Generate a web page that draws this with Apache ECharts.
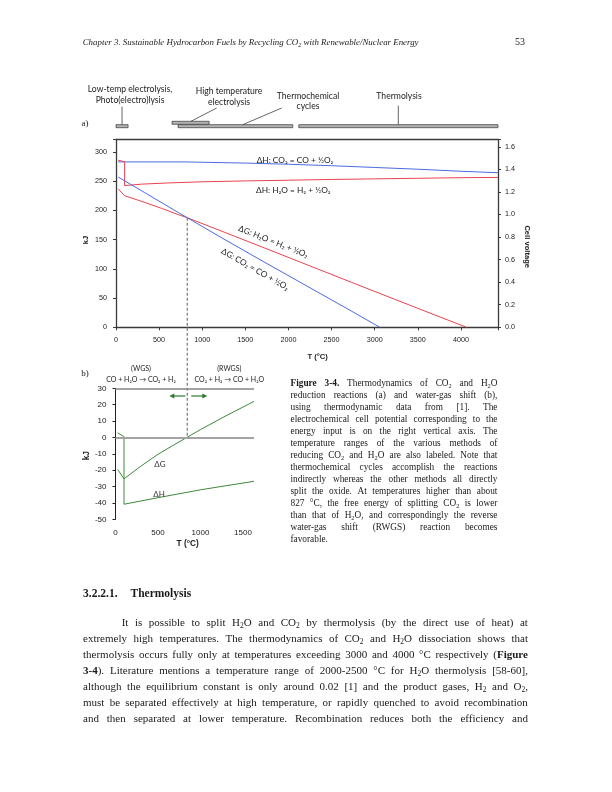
<!DOCTYPE html>
<html><head><meta charset="utf-8">
<script src="https://cdn.jsdelivr.net/npm/echarts@6/dist/echarts.min.js"></script>
<style>
html,body{margin:0;padding:0;background:#fff;}
#page{position:relative;width:612px;height:792px;overflow:hidden;background:#fff;}
#chart{position:absolute;left:0;top:0;width:612px;height:792px;}
.t{position:absolute;font-family:"Liberation Serif","Times New Roman",serif;color:#1a1a1a;white-space:nowrap;}
.jl{display:flex;justify-content:space-between;}
sub{font-size:0.68em;vertical-align:-0.28em;line-height:0;}
</style></head>
<body><div id="page"><div id="chart"></div>
<div class="t" id="hdr" style="left:82.7px;top:36px;font-size:8.9px;line-height:12px;font-style:italic;">Chapter 3. Sustainable Hydrocarbon Fuels by Recycling CO<sub>2</sub> with Renewable/Nuclear Energy</div>
<div class="t" style="left:505px;width:20px;text-align:right;top:35.5px;font-size:10px;line-height:12px;">53</div>
<div class="t" id="cap" style="left:290.5px;top:377px;width:207px;font-size:9.3px;line-height:12px;"></div>
<div class="t" style="left:83px;top:584.5px;font-size:11.5px;line-height:16px;font-weight:bold;">3.2.2.1.<span style="display:inline-block;width:13px"></span>Thermolysis</div>
<div class="t" id="body" style="left:83px;top:613.5px;width:445px;font-size:11px;line-height:16.1px;"></div>
</div>
<script>
// ---------- data ----------
// (a) top chart: T (°C) vs kJ
const dH_CO2 = [[25,283.0],[800,283.0],[1500,281.0],[2000,279.0],[2500,276.5],[3000,273.5],[3500,270.5],[4000,267.0],[4430,264.5]];
const dH_H2O = [[25,285.8],[100,283.5],[100,242.5],[300,245.0],[600,247.0],[1000,249.0],[1500,250.5],[2000,251.7],[2500,253.0],[3000,254.0],[3500,255.0],[4000,256.0],[4430,256.5]];
const dG_H2O = [[25,237.1],[100,225.2],[327,214.0],[527,203.6],[727,192.6],[827,187.5],[1227,164.4],[1727,135.5],[2227,106.3],[2727,77.2],[3227,48.2],[3727,19.4],[4065,0]];
const dG_CO2 = [[25,257.2],[327,231.0],[727,196.0],[827,187.5],[1227,153.0],[1727,111.0],[2227,69.5],[2727,28.0],[3060,0]];
const crossT = 827, crossKJ = 187.5;
// method temperature ranges (°C)
const methodRanges = [
  {from:0, to:140},
  {from:650, to:1080},
  {from:720, to:2050},
  {from:2120, to:4430}
];
// (b) bottom chart: water-gas shift
const dH_WGS = [[25,2.8],[100,0.5],[100,-40.8],[500,-36.8],[1000,-32.0],[1300,-29.5],[1630,-26.8]];
const dG_WGS = [[25,-19.5],[100,-25.3],[300,-17.5],[500,-10.3],[700,-4.2],[840,0],[1000,4.8],[1300,13.2],[1630,22.0]];
const refLinesB = [0, 30];

const captionLines = [
 '<b>Figure</b> <b>3-4.</b> Thermodynamics of CO<sub>2</sub> and H<sub>2</sub>O',
 'reduction reactions (a) and water-gas shift (b),',
 'using thermodynamic data from [1]. The',
 'electrochemical cell potential corresponding to the',
 'energy input is on the right vertical axis. The',
 'temperature ranges of the various methods of',
 'reducing CO<sub>2</sub> and H<sub>2</sub>O are also labeled. Note that',
 'thermochemical cycles accomplish the reactions',
 'indirectly whereas the other methods all directly',
 'split the oxide. At temperatures higher than about',
 '827 °C, the free energy of splitting CO<sub>2</sub> is lower',
 'than that of H<sub>2</sub>O, and correspondingly the reverse',
 'water-gas shift (RWGS) reaction becomes',
 'favorable.'
];
const bodyLines = [
 'It is possible to split H<sub>2</sub>O and CO<sub>2</sub> by thermolysis (by the direct use of heat) at',
 'extremely high temperatures. The thermodynamics of CO<sub>2</sub> and H<sub>2</sub>O dissociation shows that',
 'thermolysis occurs fully only at temperatures exceeding 3000 and 4000 °C respectively (<b>Figure</b>',
 '<b>3-4</b>). Literature mentions a temperature range of 2000-2500 °C for H<sub>2</sub>O thermolysis [58-60],',
 'although the equilibrium constant is only around 0.02 [1] and the product gases, H<sub>2</sub> and O<sub>2</sub>,',
 'must be separated effectively at high temperature, or rapidly quenched to avoid recombination',
 'and then separated at lower temperature. Recombination reduces both the efficiency and'
];

function fillLines(el, lines, lastPlain, indentFirst){
  lines.forEach((ln,i)=>{
    const d=document.createElement('div');
    const plain = lastPlain && i===lines.length-1;
    if(plain){ d.innerHTML = ln; }
    else { d.className='jl'; d.innerHTML = ln.split(' ').map(w=>'<span>'+w+'</span>').join(''); }
    if(indentFirst && i===0) d.style.paddingLeft='38.7px';
    el.appendChild(d);
  });
}
fillLines(document.getElementById('cap'), captionLines, true, false);
fillLines(document.getElementById('body'), bodyLines, false, true);

// ---------- chart ----------
const chart = echarts.init(document.getElementById('chart'), null, {renderer:'canvas', width:612, height:792});
const axC = '#3a3a3a';
const tickFont = {fontFamily:'Liberation Sans', color:'#222'};
const blue = '#4a6be0', red = '#e8424f', green = '#3d8a3a';
const mult = (v, step) => Math.abs(v/step - Math.round(v/step)) < 1e-6;

const option = {
  animation:false,
  grid:[{left:116, top:139.3, width:382, height:188},
        {left:115.5, top:388.3, width:138.5, height:131}],
  xAxis:[
    {gridIndex:0, type:'value', min:0, max:4430, interval:500, position:'bottom',
     axisLine:{onZero:false, lineStyle:{color:axC, width:1.3}},
     axisTick:{show:true, length:3, lineStyle:{color:axC}}, splitLine:{show:false},
     axisLabel:Object.assign({margin:9, fontSize:7.2, formatter:v=>mult(v,500)?String(v):''}, tickFont)},
    {gridIndex:0, type:'value', min:0, max:4430, position:'top',
     axisLine:{onZero:false, lineStyle:{color:axC, width:1.3}},
     axisTick:{show:false}, axisLabel:{show:false}, splitLine:{show:false}},
    {gridIndex:1, type:'value', min:0, max:1630, interval:500, position:'bottom',
     axisLine:{show:false, onZero:false}, axisTick:{show:false}, splitLine:{show:false},
     axisLabel:Object.assign({margin:9, fontSize:8, formatter:v=>mult(v,500)?String(v):''}, tickFont)}
  ],
  yAxis:[
    {gridIndex:0, type:'value', min:0, max:321.7, interval:50, position:'left',
     axisLine:{show:true, onZero:false, lineStyle:{color:axC, width:1.3}},
     axisTick:{show:true, length:3, lineStyle:{color:axC}}, splitLine:{show:false},
     axisLabel:Object.assign({margin:9, fontSize:7.2, formatter:v=>mult(v,50)?String(v):''}, tickFont)},
    {gridIndex:0, type:'value', min:0, max:1.667, interval:0.2, position:'right',
     axisLine:{show:true, onZero:false, lineStyle:{color:axC, width:1.3}},
     axisTick:{show:true, length:3, lineStyle:{color:axC}}, splitLine:{show:false},
     axisLabel:Object.assign({margin:7, fontSize:7.2, formatter:v=>mult(v,0.2)?v.toFixed(1):''}, tickFont)},
    {gridIndex:1, type:'value', min:-50, max:30, interval:10, position:'left',
     axisLine:{show:true, onZero:false, lineStyle:{color:'#222', width:1}},
     axisTick:{show:true, length:3, lineStyle:{color:'#222'}}, splitLine:{show:false},
     axisLabel:Object.assign({margin:9, fontSize:8, formatter:v=>mult(v,10)?String(v):''}, tickFont)}
  ],
  series:[
    {type:'line', xAxisIndex:0, yAxisIndex:0, data:dH_CO2, showSymbol:false, symbol:'none', lineStyle:{color:blue, width:1}, z:3},
    {type:'line', xAxisIndex:0, yAxisIndex:0, data:dH_H2O, showSymbol:false, symbol:'none', lineStyle:{color:red, width:1}, z:3},
    {type:'line', xAxisIndex:0, yAxisIndex:0, data:dG_H2O, showSymbol:false, symbol:'none', lineStyle:{color:red, width:1}, z:3},
    {type:'line', xAxisIndex:0, yAxisIndex:0, data:dG_CO2, showSymbol:false, symbol:'none', lineStyle:{color:blue, width:1}, z:3},
    {type:'line', xAxisIndex:2, yAxisIndex:2, data:[], symbol:'none', z:1,
     markLine:{silent:true, symbol:['none','none'], label:{show:false},
       lineStyle:{color:'#a3a3a3', width:2, type:'solid'},
       data:refLinesB.map(v=>({yAxis:v}))}},
    {type:'line', xAxisIndex:2, yAxisIndex:2, data:dH_WGS, showSymbol:false, symbol:'none', lineStyle:{color:green, width:1}, z:3},
    {type:'line', xAxisIndex:2, yAxisIndex:2, data:dG_WGS, showSymbol:false, symbol:'none', lineStyle:{color:green, width:1}, z:3}
  ]
};
chart.setOption(option);

// ---------- annotations positioned through the axes ----------
const pA = p => chart.convertToPixel({xAxisIndex:0, yAxisIndex:0}, p);
const pB = p => chart.convertToPixel({xAxisIndex:2, yAxisIndex:2}, p);
const gEls = [];
const addTxt = (x,y,text,font,opt={}) => gEls.push(Object.assign({type:'text', x, y, z:10,
   style:{text, font, fill:opt.fill||'#222', textAlign:opt.align||'center', textVerticalAlign:'middle'}}, opt.rot!==undefined?{rotation:opt.rot}:{}));
const addLine = (x1,y1,x2,y2,st) => gEls.push({type:'line', z:9, shape:{x1,y1,x2,y2}, style:Object.assign({stroke:'#404040', lineWidth:0.8}, st||{})});

// dashed guide at the crossing temperature
const crossPx = pA([crossT, crossKJ]);
const zeroPx = pB([crossT, 0]);
addLine(crossPx[0], crossPx[1], crossPx[0], zeroPx[1], {stroke:'#8a8a8a', lineWidth:1.4, lineDash:[3,2]});

// method range bars
const barY = [124.7, 121.3, 124.7, 124.7];
methodRanges.forEach((m,i)=>{
  const x1 = pA([m.from,0])[0], x2 = pA([m.to,0])[0];
  gEls.push({type:'rect', z:8, shape:{x:x1, y:barY[i], width:x2-x1, height:3},
          style:{fill:'#b3b3b3', stroke:'#454545', lineWidth:0.8}});
});
const lf = '8.6px Lato';
addTxt(130,89,'Low-temp electrolysis,',lf); addTxt(130,100,'Photo(electro)lysis',lf);
addTxt(229,91.7,'High temperature',lf); addTxt(229,102,'electrolysis',lf);
addTxt(308,96.7,'Thermochemical',lf); addTxt(308,106.7,'cycles',lf);
addTxt(399,96.7,'Thermolysis',lf);
const lowC = (pA([methodRanges[0].from,0])[0]+pA([methodRanges[0].to,0])[0])/2;
addLine(lowC,106.7,lowC,124.7);
addLine(216.7,108,191,121.3);
addLine(281.7,108,242.7,124.7);
addLine(398.3,105.7,398.3,124.7);

// panel letters
addTxt(85,123.3,'a)','9px "Liberation Serif"');
addTxt(85,373.3,'b)','9px "Liberation Serif"');

// axis titles
const af = 'bold 7.6px "Liberation Sans"';
addTxt(317.7,356.7,'T (°C)',af);
addTxt(86,240,'kJ',af,{rot:Math.PI/2});
addTxt(527,246.7,'Cell voltage',af,{rot:-Math.PI/2});
addTxt(187.7,543.3,'T (°C)','bold 8.4px "Liberation Sans"');
addTxt(86.7,455.7,'kJ','bold 8.4px "Liberation Sans"',{rot:Math.PI/2});

// curve labels
const cf = '8.3px Lato';
addTxt(295,160.5,'ΔH: CO₂ = CO + ½O₂',cf);
addTxt(293.3,190,'ΔH: H₂O = H₂ + ½O₂',cf);
addTxt(273.3,241.7,'ΔG: H₂O = H₂ + ½O₂',cf,{rot:-0.375});
addTxt(255,269.3,'ΔG: CO₂ = CO + ½O₂',cf,{rot:-0.518});
addTxt(160,464.3,'ΔG','8px Lato',{fill:'#333'});
addTxt(159,494,'ΔH','8px Lato',{fill:'#333'});

// WGS / RWGS headers
const hf = '7px Lato';
addTxt(141,369,'(WGS)',hf); addTxt(141,380,'CO + H₂O → CO₂ + H₂',hf);
addTxt(229.3,369,'(RWGS)',hf); addTxt(229.3,380,'CO₂ + H₂ → CO + H₂O',hf);

// direction arrows
const arX = crossPx[0], arY = 396, ag = '#2f7a2f';
addLine(arX-2, arY, arX-14, arY, {stroke:ag, lineWidth:1.2});
gEls.push({type:'polygon', z:9, shape:{points:[[arX-18,arY],[arX-13,arY-2.6],[arX-13,arY+2.6]]}, style:{fill:ag}});
addLine(arX+4, arY, arX+16, arY, {stroke:ag, lineWidth:1.2});
gEls.push({type:'polygon', z:9, shape:{points:[[arX+20,arY],[arX+15,arY-2.6],[arX+15,arY+2.6]]}, style:{fill:ag}});

chart.setOption({graphic:{elements:gEls}});
</script>
</body></html>
